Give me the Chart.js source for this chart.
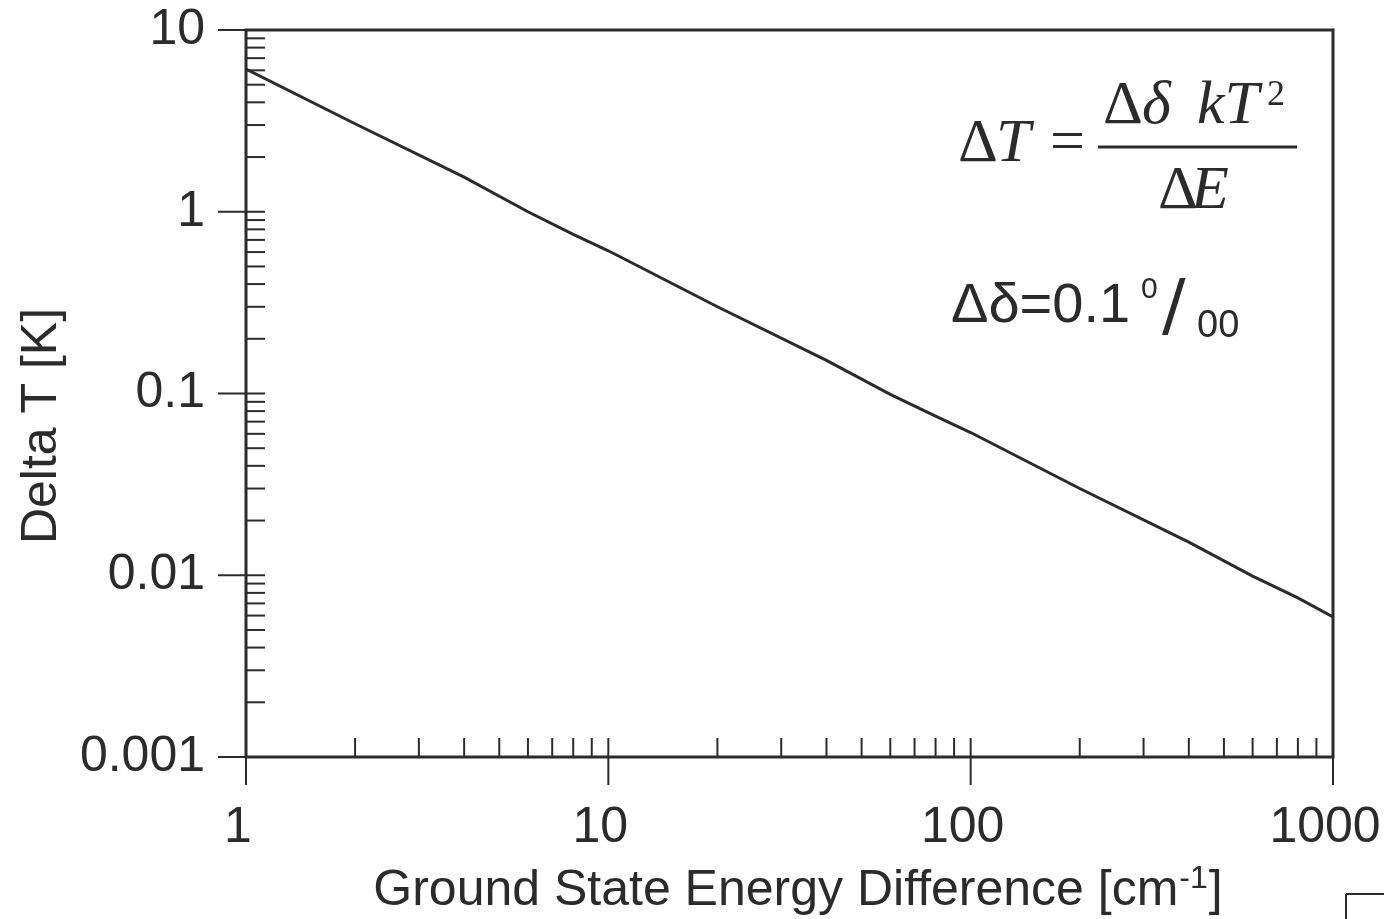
<!DOCTYPE html>
<html>
<head>
<meta charset="UTF-8">
<title>Delta T vs Ground State Energy Difference</title>
<script src="https://cdn.jsdelivr.net/npm/chart.js"></script>
<style>
    html, body { margin: 0; padding: 0; background: #fff; }
    #wrap { width: 1384px; height: 919px; position: relative; }
</style>
</head>
<body>
<div id="wrap"><canvas id="chart"></canvas></div>
<script>
    // data (log-log)
    const energy = [1, 2, 4, 6, 8, 10, 20, 40, 60, 80, 100, 200, 400, 600, 800, 1000];
    const deltaT = [6.1, 3.05, 1.55, 1.0, 0.75, 0.61, 0.30, 0.152, 0.099, 0.075, 0.061, 0.030, 0.0152, 0.0099, 0.0075, 0.0059];

    const xTicks = [1, 10, 100, 1000];
    const xLabels = ['1', '10', '100', '1000'];
    const yTicks = [0.001, 0.01, 0.1, 1, 10];
    const yLabels = ['0.001', '0.01', '0.1', '1', '10'];

    const ink = '#2b2b2b';
    const sans = '"Liberation Sans", Arial, sans-serif';
    const serif = '"Liberation Serif", "Times New Roman", serif';

    function line(ctx, x1, y1, x2, y2) {
        ctx.beginPath();
        ctx.moveTo(x1, y1);
        ctx.lineTo(x2, y2);
        ctx.stroke();
    }

    function text(ctx, s, font, x, y) {
        ctx.font = font;
        ctx.fillText(s, x, y);
    }

    // frame, tick marks, axis titles and the formula text
    const framePlugin = {
        id: 'frame',
        afterDraw(chart) {
            const { ctx, chartArea: a, scales: { x, y } } = chart;
            ctx.save();
            ctx.strokeStyle = ink;
            ctx.fillStyle = ink;
            ctx.lineWidth = 3;
            ctx.strokeRect(a.left, a.top, a.right - a.left, a.bottom - a.top);

            ctx.lineWidth = 2;
            // y ticks: majors cross the axis, minors inside
            yTicks.forEach((v, i) => {
                const py = y.getPixelForValue(v);
                line(ctx, a.left - 28, py, a.left + 19, py);
                if (i < yTicks.length - 1) {
                    for (let m = 2; m <= 9; m++) {
                        const pm = y.getPixelForValue(v * m);
                        line(ctx, a.left, pm, a.left + 19, pm);
                    }
                }
            });
            // x ticks
            xTicks.forEach((v, i) => {
                const px = x.getPixelForValue(v);
                line(ctx, px, a.bottom + 28, px, a.bottom - 19);
                if (i < xTicks.length - 1) {
                    for (let m = 2; m <= 9; m++) {
                        const pm = x.getPixelForValue(v * m);
                        line(ctx, pm, a.bottom, pm, a.bottom - 19);
                    }
                }
            });

            ctx.textBaseline = 'alphabetic';

            // x axis title with superscript -1
            const f50 = '50px ' + sans;
            const f32 = '32px ' + sans;
            ctx.font = f50;
            const main = 'Ground State Energy Difference [cm';
            const w1 = ctx.measureText(main).width;
            const w3 = ctx.measureText(']').width;
            ctx.font = f32;
            const w2 = ctx.measureText('-1').width + 2;
            let tx = 798 - (w1 + w2 + w3) / 2;
            text(ctx, main, f50, tx, 905);
            text(ctx, '-1', f32, tx + w1 + 1, 888);
            text(ctx, ']', f50, tx + w1 + w2, 905);

            // y axis title
            ctx.save();
            ctx.translate(56, 426);
            ctx.rotate(-Math.PI / 2);
            ctx.textAlign = 'center';
            text(ctx, 'Delta T [K]', f50, 0, 0);
            ctx.restore();

            // formula: ΔT = Δδ kT² / ΔE
            const up = '62px ' + serif;
            const it = 'italic 62px ' + serif;
            text(ctx, 'Δ', up, 958, 161);
            text(ctx, 'T', it, 996, 161);
            text(ctx, '=', up, 1050, 161);

            ctx.lineWidth = 3;
            line(ctx, 1098, 147, 1297, 147);

            text(ctx, 'Δ', up, 1103, 123);
            text(ctx, 'δ', it, 1142, 123);
            text(ctx, 'kT', it, 1197, 123);
            text(ctx, '2', '36px ' + serif, 1267, 105);

            text(ctx, 'Δ', up, 1158, 208);
            text(ctx, 'E', it, 1191, 208);

            // Δδ = 0.1 per mille
            text(ctx, 'Δδ=0.1', '56px ' + sans, 951, 322);
            text(ctx, '0', '30px ' + sans, 1141, 298);
            text(ctx, '/', '70px "DejaVu Sans", sans-serif', 1162, 329);
            text(ctx, '00', '38px ' + sans, 1197, 337);

            // scan corner at bottom right
            ctx.lineWidth = 2;
            line(ctx, 1346, 919, 1346, 894);
            line(ctx, 1346, 894, 1384, 894);
            ctx.restore();
        }
    };

    function noPad(s) {
        s.paddingLeft = 0;
        s.paddingRight = 0;
        s.paddingTop = 0;
        s.paddingBottom = 0;
    }

    new Chart(document.getElementById('chart'), {
        type: 'line',
        data: {
            datasets: [{
                data: energy.map((e, i) => ({ x: e, y: deltaT[i] })),
                borderColor: ink,
                borderWidth: 3,
                pointRadius: 0,
                tension: 0,
                fill: false
            }]
        },
        options: {
            responsive: true,
            maintainAspectRatio: false,
            animation: false,
            layout: { padding: { left: 11, top: 30, right: 51, bottom: 0 } },
            plugins: { legend: { display: false }, tooltip: { enabled: false } },
            scales: {
                x: {
                    type: 'logarithmic',
                    min: 1,
                    max: 1000,
                    afterBuildTicks: s => { s.ticks = xTicks.map(v => ({ value: v })); },
                    afterFit: s => { noPad(s); s.height = 162; },
                    grid: { display: false, drawTicks: false },
                    border: { display: false },
                    ticks: {
                        autoSkip: false,
                        maxRotation: 0,
                        padding: 41,
                        labelOffset: -8,
                        color: ink,
                        font: { family: sans, size: 50 },
                        callback: v => xLabels[xTicks.indexOf(v)]
                    },
                    title: { display: false }
                },
                y: {
                    type: 'logarithmic',
                    min: 0.001,
                    max: 10,
                    afterBuildTicks: s => { s.ticks = yTicks.map(v => ({ value: v })); },
                    afterFit: s => { noPad(s); s.width = 235; },
                    grid: { display: false, drawTicks: false },
                    border: { display: false },
                    ticks: {
                        autoSkip: false,
                        padding: 41,
                        color: ink,
                        font: { family: sans, size: 50 },
                        callback: v => yLabels[yTicks.indexOf(v)]
                    },
                    title: { display: false }
                }
            }
        },
        plugins: [framePlugin]
    });
</script>
</body>
</html>
